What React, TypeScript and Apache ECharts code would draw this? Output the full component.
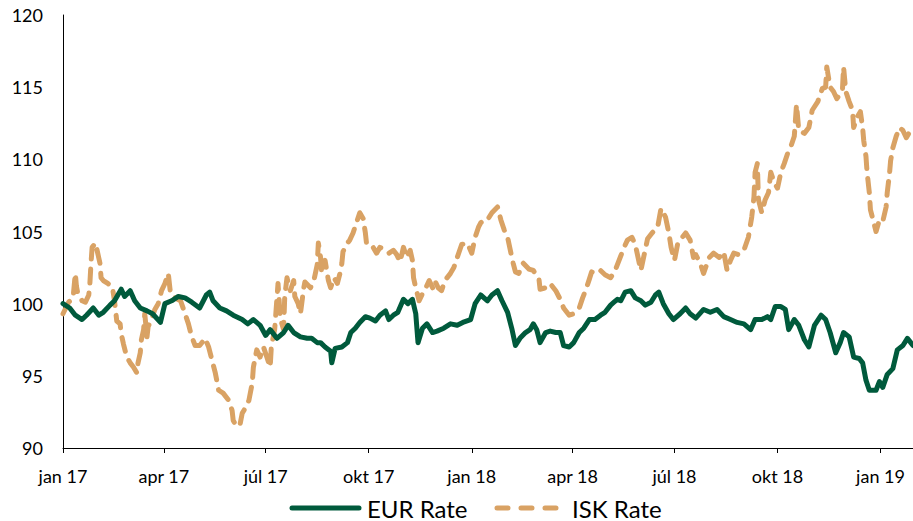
import React, { useEffect, useRef } from "react";
import * as echarts from "echarts";

// Days since 2017-01-01
const tickDays = [0, 90, 181, 273, 365, 455, 546, 638, 730];
const tickLabels = ["jan 17", "apr 17", "júl 17", "okt 17", "jan 18", "apr 18", "júl 18", "okt 18", "jan 19"];
const seriesNames = ["EUR Rate", "ISK Rate"];

const eurDays = [0, 6, 11, 17, 21, 27, 32, 36, 42, 46, 52, 55, 60, 64, 69, 75, 80, 87, 91, 97, 103, 109, 115, 122, 128, 131, 134, 140, 146, 152, 160, 165, 170, 176, 181, 185, 191, 197, 201, 206, 212, 218, 222, 227, 230, 234, 239, 240, 243, 249, 254, 257, 261, 265, 270, 274, 279, 283, 288, 291, 295, 299, 304, 308, 312, 315, 317, 321, 325, 330, 334, 340, 346, 352, 357, 364, 368, 373, 379, 383, 388, 392, 397, 401, 404, 408, 413, 417, 420, 423, 426, 431, 435, 440, 444, 447, 452, 456, 461, 465, 470, 475, 480, 484, 489, 492, 495, 498, 502, 507, 511, 516, 520, 525, 529, 532, 536, 541, 545, 551, 556, 560, 565, 572, 578, 584, 590, 596, 602, 608, 614, 618, 624, 629, 632, 636, 641, 645, 648, 653, 657, 662, 666, 671, 677, 681, 685, 690, 694, 697, 702, 706, 711, 714, 717, 720, 726, 729, 732, 736, 741, 745, 750, 754, 757, 759];
const eurValues = [100.0, 99.7, 99.2, 98.9, 99.2, 99.7, 99.2, 99.4, 99.9, 100.2, 101.0, 100.5, 100.9, 100.2, 99.7, 99.5, 99.3, 98.7, 100.0, 100.2, 100.5, 100.4, 100.1, 99.7, 100.6, 100.8, 100.2, 99.7, 99.5, 99.2, 98.9, 98.6, 98.9, 98.5, 97.8, 98.2, 97.6, 98.0, 98.5, 98.0, 97.7, 97.6, 97.6, 97.3, 97.3, 97.0, 96.7, 95.9, 96.9, 97.0, 97.3, 98.0, 98.3, 98.7, 99.1, 99.0, 98.8, 99.2, 99.5, 98.9, 99.2, 99.4, 100.3, 100.0, 100.3, 99.3, 97.3, 98.3, 98.6, 98.0, 98.1, 98.3, 98.6, 98.5, 98.7, 98.9, 100.0, 100.6, 100.2, 100.6, 100.9, 100.2, 99.4, 98.2, 97.1, 97.6, 98.0, 98.2, 98.6, 98.2, 97.3, 98.0, 98.1, 98.0, 98.0, 97.1, 97.0, 97.3, 98.0, 98.3, 98.9, 98.9, 99.2, 99.4, 99.9, 100.1, 100.3, 100.2, 100.8, 100.9, 100.4, 100.2, 99.9, 100.1, 100.6, 100.8, 100.0, 99.3, 98.9, 99.3, 99.7, 99.3, 99.0, 99.6, 99.4, 99.6, 99.1, 98.9, 98.7, 98.6, 98.2, 98.9, 98.9, 99.1, 98.9, 99.8, 99.8, 99.6, 98.2, 98.9, 98.5, 97.5, 97.0, 98.5, 99.2, 98.9, 98.0, 96.6, 97.3, 98.0, 97.7, 96.3, 96.2, 95.9, 94.7, 94.0, 94.0, 94.6, 94.2, 95.1, 95.5, 96.8, 97.1, 97.6, 97.3, 97.1];

const iskDays = [0, 5, 9, 11, 12, 13, 17, 20, 23, 24, 25, 26, 29, 31, 33, 34, 36, 40, 44, 46, 48, 51, 52, 54, 57, 60, 63, 66, 67, 69, 70, 72, 73, 75, 76, 79, 82, 85, 88, 91, 94, 96, 100, 105, 109, 112, 115, 118, 122, 127, 130, 133, 136, 139, 143, 148, 151, 152, 155, 158, 160, 163, 166, 169, 170, 173, 176, 179, 182, 185, 186, 189, 192, 194, 197, 198, 200, 203, 206, 207, 210, 212, 215, 216, 221, 224, 227, 228, 230, 231, 234, 237, 239, 242, 245, 248, 249, 250, 254, 256, 259, 262, 265, 268, 270, 271, 274, 277, 280, 283, 288, 291, 295, 298, 301, 304, 307, 310, 312, 313, 315, 318, 321, 324, 327, 330, 332, 335, 338, 341, 346, 349, 352, 356, 361, 365, 368, 371, 373, 376, 379, 383, 388, 391, 394, 397, 400, 402, 404, 407, 411, 416, 420, 425, 426, 431, 435, 440, 444, 447, 452, 456, 461, 464, 467, 470, 472, 477, 480, 484, 489, 493, 496, 501, 504, 508, 511, 516, 519, 522, 526, 531, 534, 538, 541, 543, 546, 549, 551, 556, 560, 563, 565, 569, 572, 577, 581, 586, 590, 593, 596, 599, 603, 608, 612, 615, 617, 618, 620, 621, 624, 627, 630, 632, 635, 638, 641, 644, 647, 650, 653, 654, 655, 657, 662, 666, 669, 674, 678, 681, 682, 685, 688, 691, 696, 697, 699, 702, 705, 706, 709, 712, 714, 715, 717, 718, 720, 721, 724, 726, 729, 732, 735, 736, 738, 739, 741, 744, 747, 750, 753, 756, 759];
const iskValues = [99.3, 100.1, 100.4, 102.1, 101.2, 100.8, 100.2, 100.1, 100.6, 101.4, 102.8, 103.9, 104.2, 103.5, 102.8, 101.8, 101.6, 101.4, 101.2, 100.2, 98.8, 98.6, 97.9, 97.2, 96.3, 95.9, 95.6, 95.2, 95.9, 96.6, 97.5, 98.2, 99.3, 97.7, 98.4, 98.9, 99.6, 100.0, 100.9, 101.4, 102.1, 100.7, 100.4, 100.2, 99.3, 98.6, 97.7, 97.1, 97.1, 97.6, 97.0, 96.1, 95.2, 94.0, 93.8, 93.3, 92.6, 91.9, 91.5, 91.6, 92.4, 92.8, 93.3, 94.5, 95.6, 96.8, 96.3, 97.0, 96.3, 95.6, 97.0, 98.2, 101.4, 99.0, 98.2, 100.5, 101.8, 100.9, 101.6, 100.5, 100.0, 99.3, 101.1, 101.5, 101.1, 101.6, 102.7, 104.2, 103.2, 102.1, 103.0, 101.6, 101.1, 101.8, 101.4, 102.3, 102.8, 103.6, 104.2, 104.4, 104.9, 105.6, 106.3, 105.9, 104.9, 104.2, 103.9, 103.9, 103.5, 103.9, 103.7, 103.5, 103.7, 103.4, 102.9, 103.9, 103.2, 103.7, 103.0, 101.8, 101.1, 100.2, 100.7, 101.1, 101.6, 101.1, 101.6, 101.1, 100.9, 101.6, 102.1, 102.5, 103.2, 104.1, 104.2, 103.5, 104.6, 105.3, 105.6, 105.8, 105.8, 106.3, 106.7, 105.8, 105.1, 104.6, 103.5, 102.8, 102.2, 102.1, 102.8, 102.4, 102.3, 101.7, 101.0, 101.1, 101.4, 100.9, 100.3, 99.7, 99.2, 99.3, 99.7, 100.4, 101.0, 101.7, 102.2, 102.1, 102.3, 102.0, 101.8, 102.3, 102.9, 103.9, 104.4, 104.6, 104.1, 102.3, 103.4, 104.5, 104.9, 105.3, 106.6, 106.0, 104.9, 103.9, 103.0, 104.2, 104.4, 104.9, 104.4, 103.2, 103.4, 102.8, 102.1, 103.2, 103.5, 103.2, 103.6, 102.3, 103.0, 103.5, 103.4, 103.7, 104.6, 106.0, 107.4, 109.1, 109.7, 107.2, 106.3, 107.2, 107.7, 109.1, 108.4, 108.0, 109.1, 109.7, 110.4, 110.9, 111.6, 112.7, 113.8, 112.0, 111.8, 112.2, 113.4, 114.0, 114.9, 115.0, 116.4, 115.0, 114.7, 114.2, 114.8, 116.4, 114.7, 114.0, 113.4, 112.2, 112.9, 113.3, 112.2, 111.3, 110.2, 109.1, 107.7, 106.5, 105.6, 105.0, 105.8, 105.7, 106.7, 107.7, 109.0, 109.9, 110.8, 111.6, 112.2, 112.0, 111.5, 111.9, 111.5];

const FONT = "Lato, 'Open Sans', sans-serif";
const EUR_COLOR = "#005A3C";
const ISK_COLOR = "#D9A264";
const LINE_W = 5;
const ISK_DASH = [14, 10];

export default function App() {
  const ref = useRef<HTMLDivElement>(null);
  useEffect(() => {
    if (!ref.current) return;
    const chart = echarts.init(ref.current, null, { renderer: "svg" });
    const eurData = eurDays.map((d, i) => [d, eurValues[i]]);
    const iskData = iskDays.map((d, i) => [d, iskValues[i]]);
    const legendY = 508;
    chart.setOption({
      animation: false,
      backgroundColor: "#ffffff",
      grid: { left: 63, right: 0, top: 15, bottom: 73, containLabel: false },
      xAxis: {
        type: "value",
        min: 0,
        max: 759,
        splitLine: { show: false },
        axisLine: { show: true, lineStyle: { color: "#000", width: 1 } },
        axisTick: { show: true, length: 5, lineStyle: { color: "#000" }, customValues: tickDays },
        axisLabel: {
          customValues: tickDays,
          color: "#000",
          fontFamily: FONT,
          fontSize: 18,
          margin: 19,
          formatter: (v: number) => {
            const i = tickDays.indexOf(Math.round(v));
            return i >= 0 ? tickLabels[i] : "";
          },
        },
      },
      yAxis: {
        type: "value",
        min: 90,
        max: 120,
        interval: 5,
        splitLine: { show: false },
        axisLine: { show: true, lineStyle: { color: "#000", width: 1 } },
        axisTick: { show: false },
        axisLabel: { color: "#000", fontFamily: FONT, fontSize: 18, margin: 20 },
      },
      graphic: [
        {
          type: "line",
          shape: { x1: 292, y1: legendY, x2: 359, y2: legendY },
          style: { stroke: EUR_COLOR, lineWidth: LINE_W, lineCap: "round" },
        },
        {
          type: "text",
          x: 367,
          y: legendY,
          style: { text: seriesNames[0], fill: "#000", font: `24px ${FONT}`, textVerticalAlign: "middle", verticalAlign: "middle" },
        },
        {
          type: "line",
          shape: { x1: 497, y1: legendY, x2: 557, y2: legendY },
          style: { stroke: ISK_COLOR, lineWidth: LINE_W, lineCap: "round", lineDash: [11, 13] },
        },
        {
          type: "text",
          x: 572,
          y: legendY,
          style: { text: seriesNames[1], fill: "#000", font: `24px ${FONT}`, textVerticalAlign: "middle", verticalAlign: "middle" },
        },
      ],
      series: [
        {
          name: seriesNames[0],
          type: "line",
          data: eurData,
          symbol: "none",
          showSymbol: false,
          color: EUR_COLOR,
          lineStyle: { color: EUR_COLOR, width: LINE_W, cap: "round", join: "round" },
          z: 3,
        },
        {
          name: seriesNames[1],
          type: "line",
          data: iskData,
          symbol: "none",
          showSymbol: false,
          color: ISK_COLOR,
          lineStyle: { color: ISK_COLOR, width: LINE_W, type: ISK_DASH, cap: "round", join: "round" },
          z: 2,
        },
      ],
    });
    return () => chart.dispose();
  }, []);
  return (
    <div
      ref={ref}
      style={{ position: "absolute", left: 0, top: 0, width: 913, height: 521 }}
    />
  );
}
